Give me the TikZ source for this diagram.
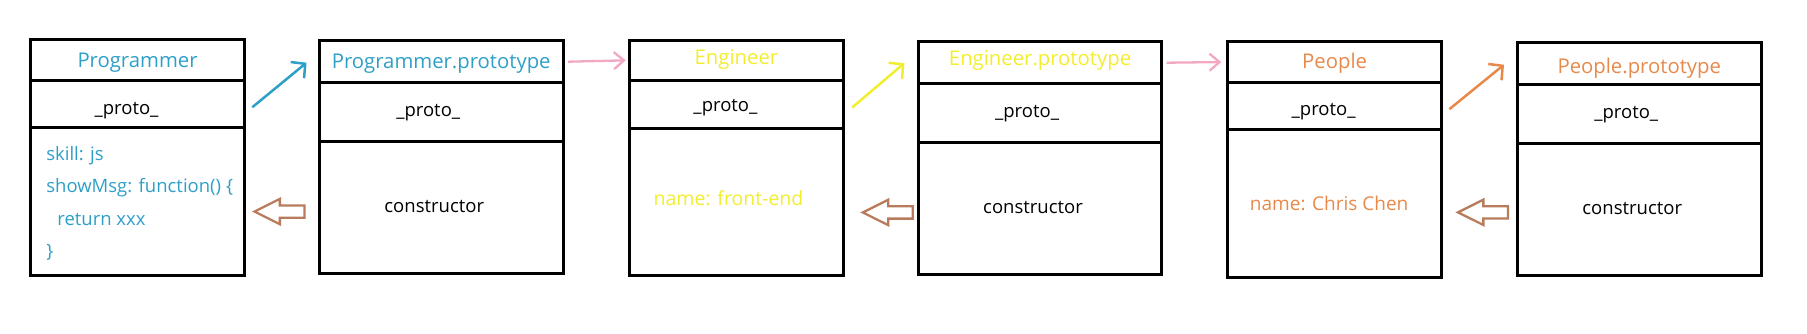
\documentclass[tikz,border=0pt]{standalone}
\usepackage{fontspec}
\setmainfont{Open Sans}
\usetikzlibrary{arrows.meta, positioning, shapes.arrows}
\definecolor{cblue}{HTML}{2E9FC7}
\definecolor{cyellow}{HTML}{F2EE2E}
\definecolor{corange}{HTML}{E8894A}
\definecolor{cpink}{HTML}{F2A7C3}
\definecolor{cbrown}{HTML}{B87C5C}

\begin{document}
\begin{tikzpicture}[x=1pt, y=-1pt,
    every node/.style={font=\fontsize{18.5}{22}\selectfont},
    cell/.style={draw, line width=3pt, inner sep=0pt, outer sep=0pt},
    ocell/.style={cell, minimum width=213.5pt},
    pcell/.style={cell, minimum width=243.5pt},
    ttl/.style={font=\fontsize{20.3}{24}\selectfont},
    link/.style={line width=2.5pt, -{Straight Barb[length=10pt, width=21pt]}},
    chain/.style={cpink, line width=2.3pt, -{Straight Barb[length=10pt, width=17pt]}},
    back/.style={single arrow, draw=cbrown, line width=2.3pt, shape border rotate=180,
                 minimum height=50pt, minimum width=23pt, inner sep=5pt,
                 single arrow head extend=6.5pt, single arrow tip angle=53, anchor=tip},
]
\useasboundingbox (0,0) rectangle (1807,333);

% ================================================ the objects
\foreach \n/\x/\y/\name/\col/\ty/\py in {pg/30.8/39.3/Programmer/cblue/-3.5/-7,
                                          en/629.7/40/Engineer/cyellow/1/-3,
                                          pe/1227.9/41.7/People/corange/-1/-5.5}{
    \node[ocell, minimum height=40.7pt, anchor=north west] (\n) at (\x,\y) {};
    \node[ocell, minimum height=47.5pt, below=0pt of \n] (\n-proto) {};
    \node[ocell, minimum height=147.5pt, below=0pt of \n-proto] (\n-body) {};
    \node[ttl, text=\col] at ([yshift=\ty pt]\n.center) {\name};
    \node at ([xshift=-11pt, yshift=\py pt]\n-proto.center) {\_proto\_};
}

% ================================================ their prototypes
\foreach \n/\x/\y/\name/\col/\ty in {pgp/319.5/40.7/Programmer.prototype/cblue/-2,
                                      enp/918.3/41.7/Engineer.prototype/cyellow/2,
                                      pep/1517.5/42.7/People.prototype/corange/-4.5}{
    \node[pcell, minimum height=42pt, anchor=north west] (\n) at (\x,\y) {};
    \node[pcell, minimum height=59pt, below=0pt of \n] (\n-proto) {};
    \node[pcell, minimum height=131.5pt, below=0pt of \n-proto] (\n-body) {};
    \node[ttl, text=\col] at ([yshift=\ty pt]\n.center) {\name};
    \node at ([xshift=-13pt]\n-proto.center) {\_proto\_};
    \node at ([xshift=-7pt, yshift=0.5pt]\n-body.center) {constructor};
}

% own properties
\node[text=cblue, align=left, anchor=west, font=\fontsize{18.5}{32.5}\selectfont] (pg-code)
    at ([xshift=12pt, yshift=-2pt]pg-body.west)
    {skill: js\\showMsg: function() \{\\\hspace*{11pt}return xxx\\\}};
\node[text=cyellow, font=\fontsize{19.5}{24}\selectfont] (en-name)
    at ([xshift=-8pt, yshift=4pt]en-body.center) {name: front-end};
\node[text=corange, font=\fontsize{19}{24}\selectfont] (pe-name)
    at ([xshift=-5.5pt]pe-body.center) {name: Chris Chen};

% ================================================ _proto_ points up to the prototype
\draw[link, cblue] ([xshift=8pt, yshift=-3.5pt]pg-proto.east) -- ([xshift=-13pt, yshift=-1pt]pgp.west);
\draw[link, cyellow] ([xshift=9pt, yshift=-3pt]en-proto.east) -- ([xshift=-14pt, yshift=-0.5pt]enp.west);
\draw[link, corange] ([xshift=8pt, yshift=-3pt]pe-proto.east) -- ([xshift=-13.5pt, yshift=-1pt]pep.west);

% prototype is the next object
\draw[chain] ([xshift=5pt]pgp.east) -- ([xshift=-4pt]en.west);
\draw[chain] ([xshift=4.7pt]enp.east) -- ([xshift=-6.6pt]pe.west);

% constructor points back
\node[back] (pg-back) at ([xshift=7.6pt, yshift=-10.3pt]pg-body.east) {};
\node[back] (en-back) at ([xshift=17pt, yshift=-10.5pt]en-body.east) {};
\node[back] (pe-back) at ([xshift=14pt, yshift=-8.7pt]pe-body.east) {};

\end{tikzpicture}
\end{document}
